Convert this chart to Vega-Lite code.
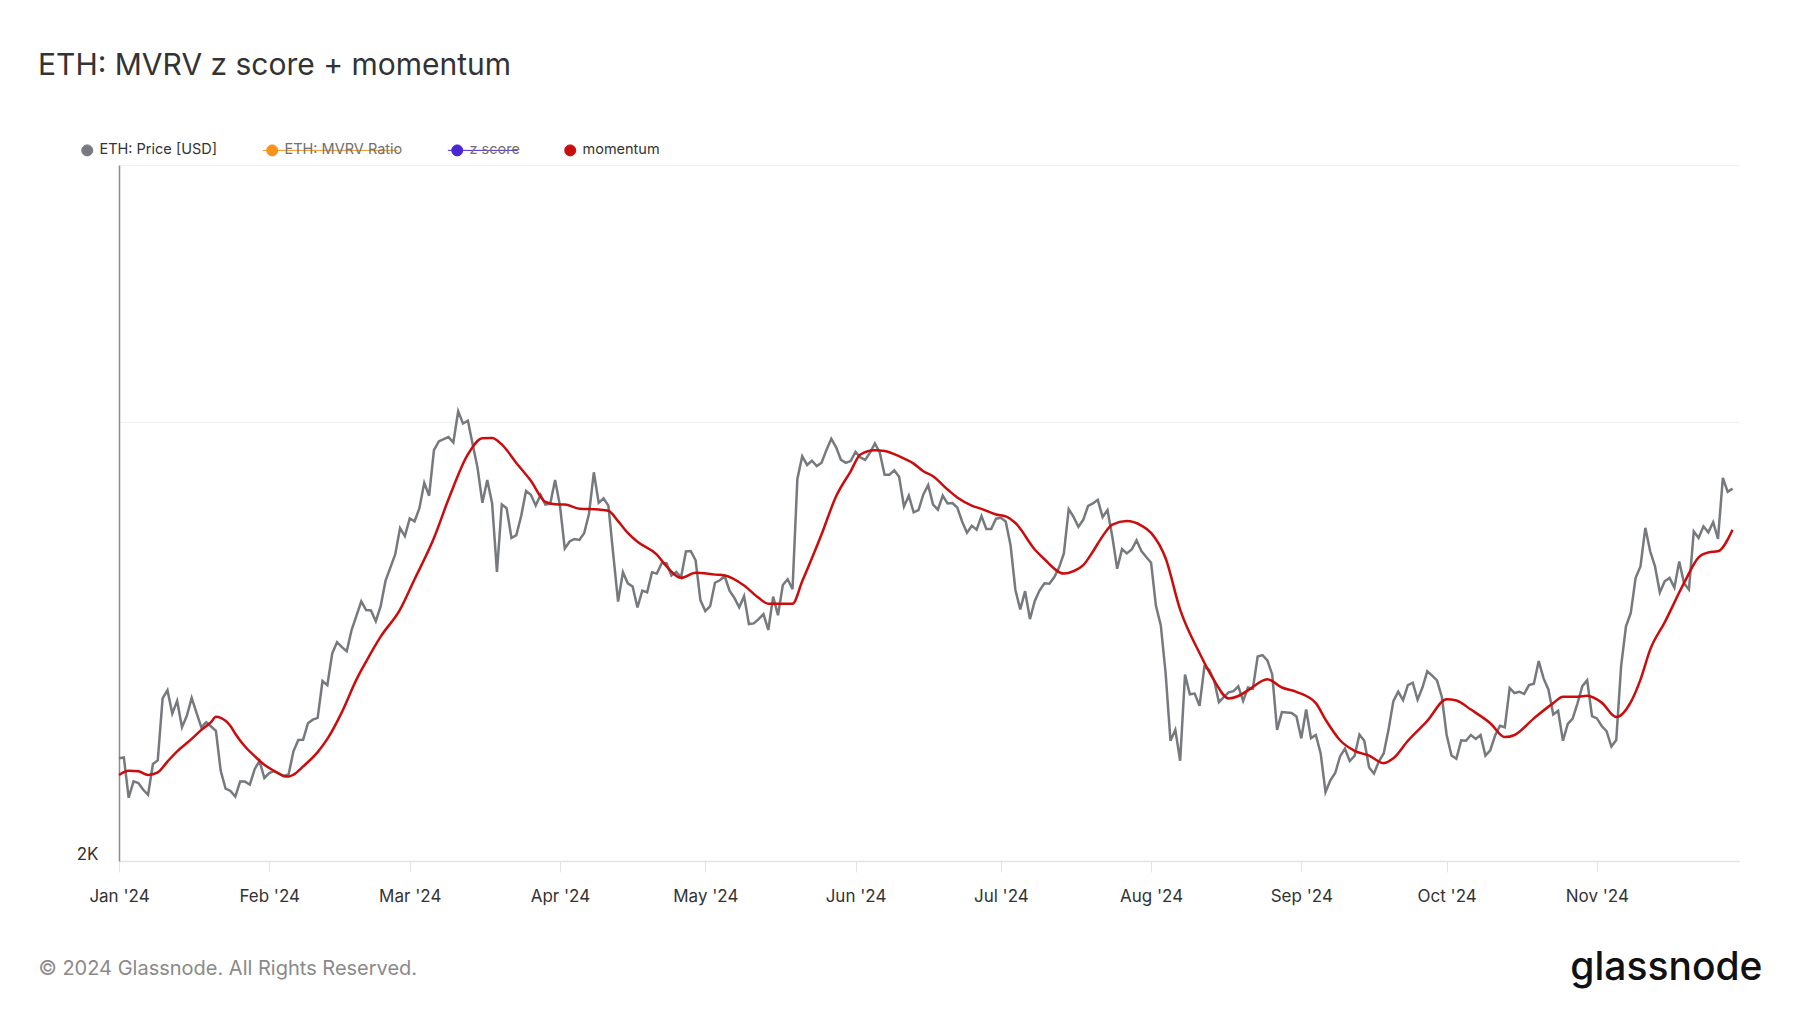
{
  "$schema": "https://vega.github.io/schema/vega-lite/v6.json",
  "width": 1620,
  "height": 696,
  "autosize": {"type": "none"},
  "padding": {"left": 119, "top": 165, "right": 61, "bottom": 152},
  "background": "#ffffff",
  "config": {"font": "Inter", "view": {"stroke": null}},
  "title": {"text": "ETH: MVRV z score + momentum", "anchor": "start", "frame": "group", "dx": -81, "offset": 62, "fontSize": 30, "fontWeight": 400, "color": "#333333", "font": "Inter"},
  "datasets": {
    "price": [
      {"date":"2024-01-01","value":2352},{"date":"2024-01-02","value":2355},{"date":"2024-01-03","value":2210},{"date":"2024-01-04","value":2268},{"date":"2024-01-05","value":2262},{"date":"2024-01-06","value":2238},{"date":"2024-01-07","value":2220},{"date":"2024-01-08","value":2331},{"date":"2024-01-09","value":2344},{"date":"2024-01-10","value":2585},{"date":"2024-01-11","value":2619},{"date":"2024-01-12","value":2524},{"date":"2024-01-13","value":2575},{"date":"2024-01-14","value":2470},{"date":"2024-01-15","value":2515},{"date":"2024-01-16","value":2587},{"date":"2024-01-17","value":2527},{"date":"2024-01-18","value":2470},{"date":"2024-01-19","value":2490},{"date":"2024-01-20","value":2473},{"date":"2024-01-21","value":2456},{"date":"2024-01-22","value":2305},{"date":"2024-01-23","value":2242},{"date":"2024-01-24","value":2234},{"date":"2024-01-25","value":2214},{"date":"2024-01-26","value":2267},{"date":"2024-01-27","value":2267},{"date":"2024-01-28","value":2256},{"date":"2024-01-29","value":2312},{"date":"2024-01-30","value":2342},{"date":"2024-01-31","value":2280},
      {"date":"2024-02-01","value":2298},{"date":"2024-02-02","value":2305},{"date":"2024-02-03","value":2297},{"date":"2024-02-04","value":2287},{"date":"2024-02-05","value":2293},{"date":"2024-02-06","value":2378},{"date":"2024-02-07","value":2421},{"date":"2024-02-08","value":2422},{"date":"2024-02-09","value":2486},{"date":"2024-02-10","value":2500},{"date":"2024-02-11","value":2507},{"date":"2024-02-12","value":2657},{"date":"2024-02-13","value":2640},{"date":"2024-02-14","value":2775},{"date":"2024-02-15","value":2825},{"date":"2024-02-16","value":2803},{"date":"2024-02-17","value":2785},{"date":"2024-02-18","value":2880},{"date":"2024-02-19","value":2945},{"date":"2024-02-20","value":3013},{"date":"2024-02-21","value":2972},{"date":"2024-02-22","value":2970},{"date":"2024-02-23","value":2920},{"date":"2024-02-24","value":2990},{"date":"2024-02-25","value":3112},{"date":"2024-02-26","value":3178},{"date":"2024-02-27","value":3245},{"date":"2024-02-28","value":3382},{"date":"2024-02-29","value":3340},
      {"date":"2024-03-01","value":3435},{"date":"2024-03-02","value":3419},{"date":"2024-03-03","value":3490},{"date":"2024-03-04","value":3633},{"date":"2024-03-05","value":3560},{"date":"2024-03-06","value":3825},{"date":"2024-03-07","value":3878},{"date":"2024-03-08","value":3893},{"date":"2024-03-09","value":3905},{"date":"2024-03-10","value":3872},{"date":"2024-03-11","value":4068},{"date":"2024-03-12","value":3990},{"date":"2024-03-13","value":4008},{"date":"2024-03-14","value":3860},{"date":"2024-03-15","value":3720},{"date":"2024-03-16","value":3520},{"date":"2024-03-17","value":3650},{"date":"2024-03-18","value":3518},{"date":"2024-03-19","value":3157},{"date":"2024-03-20","value":3511},{"date":"2024-03-21","value":3490},{"date":"2024-03-22","value":3330},{"date":"2024-03-23","value":3345},{"date":"2024-03-24","value":3448},{"date":"2024-03-25","value":3587},{"date":"2024-03-26","value":3565},{"date":"2024-03-27","value":3505},{"date":"2024-03-28","value":3565},{"date":"2024-03-29","value":3510},{"date":"2024-03-30","value":3515},{"date":"2024-03-31","value":3650},
      {"date":"2024-04-01","value":3505},{"date":"2024-04-02","value":3275},{"date":"2024-04-03","value":3312},{"date":"2024-04-04","value":3325},{"date":"2024-04-05","value":3320},{"date":"2024-04-06","value":3355},{"date":"2024-04-07","value":3460},{"date":"2024-04-08","value":3694},{"date":"2024-04-09","value":3520},{"date":"2024-04-10","value":3545},{"date":"2024-04-11","value":3505},{"date":"2024-04-12","value":3245},{"date":"2024-04-13","value":3012},{"date":"2024-04-14","value":3155},{"date":"2024-04-15","value":3100},{"date":"2024-04-16","value":3085},{"date":"2024-04-17","value":2984},{"date":"2024-04-18","value":3065},{"date":"2024-04-19","value":3056},{"date":"2024-04-20","value":3155},{"date":"2024-04-21","value":3148},{"date":"2024-04-22","value":3200},{"date":"2024-04-23","value":3200},{"date":"2024-04-24","value":3138},{"date":"2024-04-25","value":3156},{"date":"2024-04-26","value":3130},{"date":"2024-04-27","value":3260},{"date":"2024-04-28","value":3262},{"date":"2024-04-29","value":3215},{"date":"2024-04-30","value":3018},
      {"date":"2024-05-01","value":2967},{"date":"2024-05-02","value":2990},{"date":"2024-05-03","value":3103},{"date":"2024-05-04","value":3115},{"date":"2024-05-05","value":3136},{"date":"2024-05-06","value":3064},{"date":"2024-05-07","value":3030},{"date":"2024-05-08","value":2985},{"date":"2024-05-09","value":3038},{"date":"2024-05-10","value":2907},{"date":"2024-05-11","value":2910},{"date":"2024-05-12","value":2930},{"date":"2024-05-13","value":2953},{"date":"2024-05-14","value":2880},{"date":"2024-05-15","value":3036},{"date":"2024-05-16","value":2948},{"date":"2024-05-17","value":3092},{"date":"2024-05-18","value":3120},{"date":"2024-05-19","value":3071},{"date":"2024-05-20","value":3655},{"date":"2024-05-21","value":3789},{"date":"2024-05-22","value":3737},{"date":"2024-05-23","value":3762},{"date":"2024-05-24","value":3730},{"date":"2024-05-25","value":3750},{"date":"2024-05-26","value":3827},{"date":"2024-05-27","value":3895},{"date":"2024-05-28","value":3842},{"date":"2024-05-29","value":3767},{"date":"2024-05-30","value":3750},{"date":"2024-05-31","value":3760},
      {"date":"2024-06-01","value":3815},{"date":"2024-06-02","value":3782},{"date":"2024-06-03","value":3767},{"date":"2024-06-04","value":3810},{"date":"2024-06-05","value":3866},{"date":"2024-06-06","value":3812},{"date":"2024-06-07","value":3680},{"date":"2024-06-08","value":3680},{"date":"2024-06-09","value":3705},{"date":"2024-06-10","value":3668},{"date":"2024-06-11","value":3500},{"date":"2024-06-12","value":3560},{"date":"2024-06-13","value":3468},{"date":"2024-06-14","value":3480},{"date":"2024-06-15","value":3567},{"date":"2024-06-16","value":3620},{"date":"2024-06-17","value":3510},{"date":"2024-06-18","value":3482},{"date":"2024-06-19","value":3560},{"date":"2024-06-20","value":3517},{"date":"2024-06-21","value":3519},{"date":"2024-06-22","value":3494},{"date":"2024-06-23","value":3418},{"date":"2024-06-24","value":3358},{"date":"2024-06-25","value":3395},{"date":"2024-06-26","value":3374},{"date":"2024-06-27","value":3447},{"date":"2024-06-28","value":3378},{"date":"2024-06-29","value":3378},{"date":"2024-06-30","value":3433},
      {"date":"2024-07-01","value":3438},{"date":"2024-07-02","value":3418},{"date":"2024-07-03","value":3292},{"date":"2024-07-04","value":3068},{"date":"2024-07-05","value":2975},{"date":"2024-07-06","value":3062},{"date":"2024-07-07","value":2930},{"date":"2024-07-08","value":3015},{"date":"2024-07-09","value":3066},{"date":"2024-07-10","value":3100},{"date":"2024-07-11","value":3098},{"date":"2024-07-12","value":3130},{"date":"2024-07-13","value":3178},{"date":"2024-07-14","value":3250},{"date":"2024-07-15","value":3485},{"date":"2024-07-16","value":3443},{"date":"2024-07-17","value":3390},{"date":"2024-07-18","value":3427},{"date":"2024-07-19","value":3503},{"date":"2024-07-20","value":3517},{"date":"2024-07-21","value":3537},{"date":"2024-07-22","value":3442},{"date":"2024-07-23","value":3480},{"date":"2024-07-24","value":3337},{"date":"2024-07-25","value":3172},{"date":"2024-07-26","value":3272},{"date":"2024-07-27","value":3250},{"date":"2024-07-28","value":3270},{"date":"2024-07-29","value":3318},{"date":"2024-07-30","value":3262},{"date":"2024-07-31","value":3232},
      {"date":"2024-08-01","value":3203},{"date":"2024-08-02","value":2992},{"date":"2024-08-03","value":2902},{"date":"2024-08-04","value":2690},{"date":"2024-08-05","value":2418},{"date":"2024-08-06","value":2460},{"date":"2024-08-07","value":2343},{"date":"2024-08-08","value":2684},{"date":"2024-08-09","value":2602},{"date":"2024-08-10","value":2605},{"date":"2024-08-11","value":2555},{"date":"2024-08-12","value":2718},{"date":"2024-08-13","value":2705},{"date":"2024-08-14","value":2660},{"date":"2024-08-15","value":2570},{"date":"2024-08-16","value":2590},{"date":"2024-08-17","value":2610},{"date":"2024-08-18","value":2615},{"date":"2024-08-19","value":2635},{"date":"2024-08-20","value":2575},{"date":"2024-08-21","value":2630},{"date":"2024-08-22","value":2625},{"date":"2024-08-23","value":2762},{"date":"2024-08-24","value":2768},{"date":"2024-08-25","value":2745},{"date":"2024-08-26","value":2685},{"date":"2024-08-27","value":2460},{"date":"2024-08-28","value":2530},{"date":"2024-08-29","value":2528},{"date":"2024-08-30","value":2526},{"date":"2024-08-31","value":2512},
      {"date":"2024-09-01","value":2427},{"date":"2024-09-02","value":2540},{"date":"2024-09-03","value":2428},{"date":"2024-09-04","value":2440},{"date":"2024-09-05","value":2370},{"date":"2024-09-06","value":2230},{"date":"2024-09-07","value":2272},{"date":"2024-09-08","value":2298},{"date":"2024-09-09","value":2359},{"date":"2024-09-10","value":2388},{"date":"2024-09-11","value":2342},{"date":"2024-09-12","value":2361},{"date":"2024-09-13","value":2442},{"date":"2024-09-14","value":2418},{"date":"2024-09-15","value":2318},{"date":"2024-09-16","value":2296},{"date":"2024-09-17","value":2340},{"date":"2024-09-18","value":2370},{"date":"2024-09-19","value":2460},{"date":"2024-09-20","value":2574},{"date":"2024-09-21","value":2613},{"date":"2024-09-22","value":2578},{"date":"2024-09-23","value":2640},{"date":"2024-09-24","value":2650},{"date":"2024-09-25","value":2580},{"date":"2024-09-26","value":2630},{"date":"2024-09-27","value":2698},{"date":"2024-09-28","value":2680},{"date":"2024-09-29","value":2660},{"date":"2024-09-30","value":2592},
      {"date":"2024-10-01","value":2440},{"date":"2024-10-02","value":2362},{"date":"2024-10-03","value":2350},{"date":"2024-10-04","value":2420},{"date":"2024-10-05","value":2418},{"date":"2024-10-06","value":2440},{"date":"2024-10-07","value":2425},{"date":"2024-10-08","value":2440},{"date":"2024-10-09","value":2362},{"date":"2024-10-10","value":2382},{"date":"2024-10-11","value":2438},{"date":"2024-10-12","value":2476},{"date":"2024-10-13","value":2470},{"date":"2024-10-14","value":2628},{"date":"2024-10-15","value":2607},{"date":"2024-10-16","value":2612},{"date":"2024-10-17","value":2604},{"date":"2024-10-18","value":2640},{"date":"2024-10-19","value":2646},{"date":"2024-10-20","value":2742},{"date":"2024-10-21","value":2668},{"date":"2024-10-22","value":2622},{"date":"2024-10-23","value":2520},{"date":"2024-10-24","value":2535},{"date":"2024-10-25","value":2418},{"date":"2024-10-26","value":2483},{"date":"2024-10-27","value":2504},{"date":"2024-10-28","value":2565},{"date":"2024-10-29","value":2636},{"date":"2024-10-30","value":2660},{"date":"2024-10-31","value":2514},
      {"date":"2024-11-01","value":2505},{"date":"2024-11-02","value":2475},{"date":"2024-11-03","value":2455},{"date":"2024-11-04","value":2396},{"date":"2024-11-05","value":2421},{"date":"2024-11-06","value":2719},{"date":"2024-11-07","value":2896},{"date":"2024-11-08","value":2959},{"date":"2024-11-09","value":3127},{"date":"2024-11-10","value":3184},{"date":"2024-11-11","value":3384},{"date":"2024-11-12","value":3261},{"date":"2024-11-13","value":3184},{"date":"2024-11-14","value":3056},{"date":"2024-11-15","value":3110},{"date":"2024-11-16","value":3127},{"date":"2024-11-17","value":3079},{"date":"2024-11-18","value":3209},{"date":"2024-11-19","value":3100},{"date":"2024-11-20","value":3070},{"date":"2024-11-21","value":3365},{"date":"2024-11-22","value":3330},{"date":"2024-11-23","value":3392},{"date":"2024-11-24","value":3360},{"date":"2024-11-25","value":3414},{"date":"2024-11-26","value":3325},{"date":"2024-11-27","value":3662},{"date":"2024-11-28","value":3582},{"date":"2024-11-29","value":3600}
    ],
    "momentum": [
      {"date":"2024-01-01","value":2291},{"date":"2024-01-03","value":2306},{"date":"2024-01-05","value":2304},{"date":"2024-01-07","value":2291},{"date":"2024-01-09","value":2300},{"date":"2024-01-11","value":2340},{"date":"2024-01-13","value":2378},{"date":"2024-01-16","value":2425},{"date":"2024-01-18","value":2460},{"date":"2024-01-20","value":2490},{"date":"2024-01-21","value":2511},{"date":"2024-01-22","value":2507},{"date":"2024-01-24","value":2475},{"date":"2024-01-25","value":2445},{"date":"2024-01-27","value":2396},{"date":"2024-01-29","value":2360},{"date":"2024-01-31","value":2328},
      {"date":"2024-02-02","value":2306},{"date":"2024-02-04","value":2287},{"date":"2024-02-05","value":2285},{"date":"2024-02-06","value":2292},{"date":"2024-02-08","value":2322},{"date":"2024-02-11","value":2375},{"date":"2024-02-13","value":2425},{"date":"2024-02-16","value":2530},{"date":"2024-02-19","value":2663},{"date":"2024-02-21","value":2740},{"date":"2024-02-24","value":2850},{"date":"2024-02-28","value":2974},
      {"date":"2024-03-02","value":3120},{"date":"2024-03-06","value":3330},{"date":"2024-03-09","value":3540},{"date":"2024-03-13","value":3800},{"date":"2024-03-16","value":3898},{"date":"2024-03-18","value":3900},{"date":"2024-03-20","value":3860},{"date":"2024-03-23","value":3749},{"date":"2024-03-26","value":3645},{"date":"2024-03-29","value":3525},{"date":"2024-03-31","value":3512},
      {"date":"2024-04-02","value":3511},{"date":"2024-04-05","value":3488},{"date":"2024-04-09","value":3483},{"date":"2024-04-11","value":3476},{"date":"2024-04-13","value":3420},{"date":"2024-04-15","value":3357},{"date":"2024-04-17","value":3310},{"date":"2024-04-21","value":3244},{"date":"2024-04-23","value":3184},{"date":"2024-04-26","value":3127},{"date":"2024-04-29","value":3152},
      {"date":"2024-05-03","value":3143},{"date":"2024-05-05","value":3139},{"date":"2024-05-09","value":3090},{"date":"2024-05-12","value":3030},{"date":"2024-05-14","value":3002},{"date":"2024-05-19","value":3002},{"date":"2024-05-21","value":3110},{"date":"2024-05-25","value":3350},{"date":"2024-05-28","value":3557},{"date":"2024-05-31","value":3700},
      {"date":"2024-06-02","value":3799},{"date":"2024-06-05","value":3825},{"date":"2024-06-07","value":3820},{"date":"2024-06-10","value":3789},{"date":"2024-06-13","value":3745},{"date":"2024-06-15","value":3700},{"date":"2024-06-17","value":3671},{"date":"2024-06-20","value":3595},{"date":"2024-06-22","value":3550},{"date":"2024-06-25","value":3505},{"date":"2024-06-27","value":3487},{"date":"2024-06-30","value":3456},
      {"date":"2024-07-02","value":3446},{"date":"2024-07-04","value":3410},{"date":"2024-07-08","value":3270},{"date":"2024-07-10","value":3220},{"date":"2024-07-14","value":3148},{"date":"2024-07-16","value":3160},{"date":"2024-07-18","value":3190},{"date":"2024-07-20","value":3260},{"date":"2024-07-22","value":3340},{"date":"2024-07-24","value":3401},{"date":"2024-07-27","value":3420},{"date":"2024-07-30","value":3396},
      {"date":"2024-08-01","value":3357},{"date":"2024-08-04","value":3225},{"date":"2024-08-07","value":2974},{"date":"2024-08-11","value":2777},{"date":"2024-08-14","value":2660},{"date":"2024-08-17","value":2585},{"date":"2024-08-19","value":2595},{"date":"2024-08-21","value":2618},{"date":"2024-08-25","value":2665},{"date":"2024-08-28","value":2630},{"date":"2024-08-31","value":2612},
      {"date":"2024-09-04","value":2566},{"date":"2024-09-06","value":2500},{"date":"2024-09-09","value":2420},{"date":"2024-09-12","value":2380},{"date":"2024-09-15","value":2362},{"date":"2024-09-18","value":2334},{"date":"2024-09-20","value":2352},{"date":"2024-09-23","value":2418},{"date":"2024-09-27","value":2495},
      {"date":"2024-10-01","value":2582},{"date":"2024-10-03","value":2577},{"date":"2024-10-06","value":2540},{"date":"2024-10-10","value":2486},{"date":"2024-10-13","value":2432},{"date":"2024-10-15","value":2440},{"date":"2024-10-19","value":2505},{"date":"2024-10-23","value":2566},{"date":"2024-10-25","value":2592},{"date":"2024-10-28","value":2592},{"date":"2024-10-30","value":2596},
      {"date":"2024-11-02","value":2568},{"date":"2024-11-05","value":2510},{"date":"2024-11-08","value":2570},{"date":"2024-11-10","value":2663},{"date":"2024-11-12","value":2792},{"date":"2024-11-15","value":2915},{"date":"2024-11-19","value":3102},{"date":"2024-11-22","value":3230},{"date":"2024-11-24","value":3255},{"date":"2024-11-26","value":3261},{"date":"2024-11-29","value":3374}
    ]
  },
  "layer": [
    {
      "data": {"name": "price"},
      "mark": {"type": "line", "strokeWidth": 2.5, "interpolate": "linear"},
      "encoding": {
        "x": {
          "field": "date", "type": "temporal",
          "scale": {"type": "utc", "domain": [{"year": 2024, "month": 1, "date": 1, "utc": true}, {"year": 2024, "month": 11, "date": 30, "hours": 8, "utc": true}]},
          "axis": {
            "format": "%b '%y", "tickCount": {"interval": "month", "step": 1}, "grid": false,
            "domainColor": "#e3e3e3", "domainWidth": 1.5, "tickColor": "#e3e3e3", "tickSize": 11, "tickWidth": 1,
            "labelFontSize": 17, "labelColor": "#333333", "labelPadding": 16, "labelFlush": false, "labelFont": "Inter",
            "title": "© 2024 Glassnode. All Rights Reserved.", "titleX": -81, "titleY": 107, "titleAlign": "left", "titleBaseline": "middle", "titleAngle": 0,
            "titleFontSize": 20, "titleFontWeight": 400, "titleColor": "#8a8a8a", "titleFont": "Inter"
          }
        },
        "y": {
          "field": "value", "type": "quantitative",
          "scale": {"type": "log", "domain": [2000, 6000], "nice": false, "zero": false},
          "axis": {
            "values": [2000, 4000, 6000], "labelExpr": "datum.value == 2000 ? '2K' : ''",
            "ticks": false, "grid": true, "gridColor": "#f0f0f0", "gridWidth": 1,
            "domainColor": "#8c8c8c", "domainWidth": 1.5,
            "labelFontSize": 17, "labelColor": "#333333", "labelPadding": 21, "labelBaseline": "alphabetic", "labelOffset": -2, "labelFont": "Inter",
            "title": "glassnode", "titleX": 1643, "titleY": 802, "titleAlign": "right", "titleBaseline": "middle", "titleAngle": 0,
            "titleFontSize": 39, "titleFontWeight": 500, "titleColor": "#111111", "titleFont": "Inter"
          }
        },
        "color": {
          "datum": "ETH: Price [USD]", "type": "nominal",
          "scale": {"domain": ["ETH: Price [USD]", "ETH: MVRV Ratio", "z score", "momentum"], "range": ["#76797d", "#f7931a", "#4b25d6", "#cc0c0c"]},
          "legend": {
            "orient": "none", "legendX": -39, "legendY": -22, "direction": "horizontal", "title": null,
            "symbolType": "circle", "symbolSize": 121, "labelFontSize": 14.5, "labelFont": "Inter", "labelColor": "#333333",
            "labelOffset": 5, "columnPadding": 42,
            "encode": {
              "symbols": {"update": {
                "fill": {"scale": "color", "field": "value"},
                "opacity": {"value": 1},
                "shape": {"signal": "datum.value === 'ETH: MVRV Ratio' ? 'M-1.7,0H22.8M1,0A1,1,0,1,1,-1,0A1,1,0,1,1,1,0Z' : datum.value === 'z score' ? 'M-1.7,0H11M1,0A1,1,0,1,1,-1,0A1,1,0,1,1,1,0Z' : 'circle'"},
                "stroke": {"signal": "datum.value === 'ETH: MVRV Ratio' || datum.value === 'z score' ? '#7a7a7a' : 'transparent'"},
                "strokeWidth": {"value": 1}
              }},
              "labels": {"update": {
                "fill": {"signal": "datum.value === 'ETH: MVRV Ratio' || datum.value === 'z score' ? '#707070' : '#333333'"}
              }}
            }
          }
        }
      }
    },
    {
      "data": {"name": "momentum"},
      "mark": {"type": "line", "strokeWidth": 2.5, "interpolate": "monotone"},
      "encoding": {
        "x": {"field": "date", "type": "temporal"},
        "y": {"field": "value", "type": "quantitative"},
        "color": {"datum": "momentum", "type": "nominal"}
      }
    }
  ]
}
